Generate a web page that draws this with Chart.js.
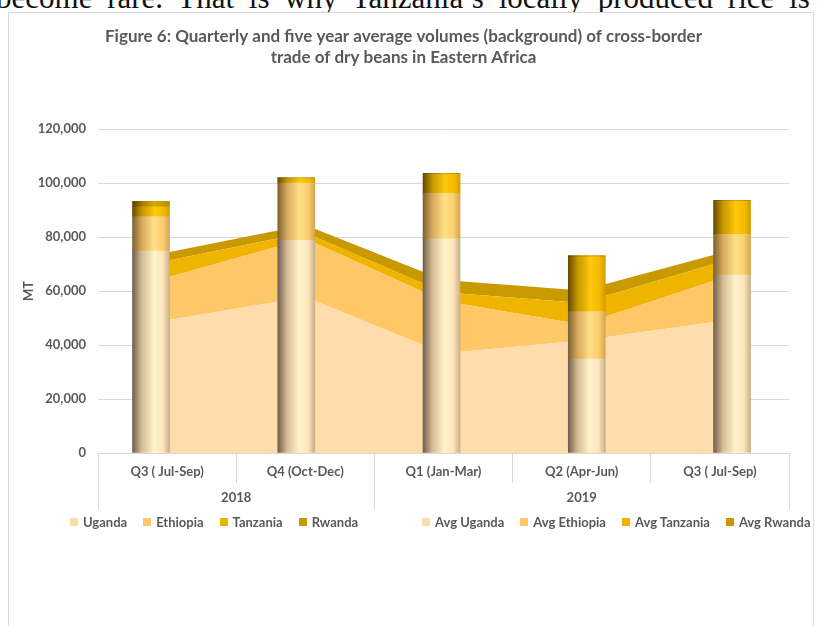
<!DOCTYPE html>
<html>
<head>
<meta charset="utf-8">
<script src="https://cdn.jsdelivr.net/npm/chart.js@4.4.1/dist/chart.umd.min.js"></script>
<style>
  body { margin: 0; width: 820px; height: 626px; overflow: hidden; position: relative; background: #fff; font-family: Lato, sans-serif; }
  #lead { position: absolute; left: -4px; top: -20px; font: 31px "Liberation Serif", serif; white-space: nowrap; word-spacing: 7px; color: #111; }
  #box { position: absolute; left: 8px; top: 12px; width: 806px; height: 640px; border: 1px solid #d9d9d9; box-sizing: border-box; background: #fff; }
  #beans-chart { position: absolute; left: 0; top: 0; }
  .legend { position: absolute; top: 501px; display: flex; gap: 16px; font: bold 13px Lato, sans-serif; color: #595959; }
  .legend span { display: inline-flex; align-items: center; white-space: nowrap; }
  .legend i { display: inline-block; width: 8px; height: 8px; margin-right: 5px; }
</style>
</head>
<body>
<div id="lead">become rare. That is why Tanzania’s locally produced rice is</div>
<div id="box">
  <canvas id="beans-chart" width="804" height="520" style="width:804px;height:520px"></canvas>
  <div class="legend" id="legend-q" style="left:61px"></div>
  <div class="legend" id="legend-avg" style="left:413px"></div>
</div>
<script>
///// data /////
const quarters = ['Q3 ( Jul-Sep)', 'Q4 (Oct-Dec)', 'Q1 (Jan-Mar)', 'Q2 (Apr-Jun)', 'Q3 ( Jul-Sep)'];
const years = ['2018', '2019'];
const yearSpans = [2, 3];

// quarterly volumes (MT), front cylinders
const uganda   = [74800, 78800, 79400, 34800, 65900];
const ethiopia = [12800, 21200, 16800, 17600, 15100];
const tanzania = [3600, 1700, 7000, 20300, 12200];
const rwanda   = [2100, 400, 400, 500, 400];

// five year averages (MT), background areas
const avgUganda   = [49200, 57800, 36900, 41700, 48800];
const avgEthiopia = [15800, 21600, 19400, 5900, 15800];
const avgTanzania = [6200, 2200, 3300, 8000, 6100];
const avgRwanda   = [3100, 2900, 4500, 4600, 3300];

const grey = '#595959';
const gridGrey = '#d9d9d9';

// year boundaries on the 0..5 helper axis
const yearEdges = [0];
yearSpans.forEach(s => yearEdges.push(yearEdges[yearEdges.length - 1] + s));

// shaded cylinder fill: dark left edge, light highlight right of centre
function cylinder(flat, stops) {
  return ctx => {
    const chart = ctx.chart;
    if (ctx.type !== 'data' || !chart.chartArea) return flat;
    const x = chart.scales.xb.getPixelForValue(ctx.parsed ? ctx.parsed.x : ctx.dataIndex);
    const g = chart.ctx.createLinearGradient(x - 18.5, 0, x + 18.5, 0);
    stops.forEach(s => g.addColorStop(s[0], s[1]));
    return g;
  };
}

const toXY = arr => arr.map((v, i) => ({ x: i, y: v }));

function barSet(label, values, flat, stops) {
  return {
    type: 'bar', label, data: toXY(values), xAxisID: 'xb', stack: 'q', grouped: false,
    backgroundColor: cylinder(flat, stops), legendColor: flat,
    barThickness: 37, borderWidth: 0
  };
}

function areaSet(label, values, color, fill) {
  return {
    type: 'line', label, data: values, xAxisID: 'x', stack: 'avg',
    backgroundColor: color, borderColor: color, legendColor: color,
    fill, borderWidth: 0, pointRadius: 0, tension: 0
  };
}

const data = {
  labels: quarters,
  datasets: [
    barSet('Uganda', uganda, '#fddcaa',
      [[0, '#6f5f4c'], [0.25, '#d6bb95'], [0.58, '#fff3cb'], [0.82, '#fde5ba'], [1, '#c9b08a']]),
    barSet('Ethiopia', ethiopia, '#fec866',
      [[0, '#7c6233'], [0.25, '#d6a95a'], [0.58, '#ffe088'], [0.82, '#fdcd6d'], [1, '#d2a656']]),
    barSet('Tanzania', tanzania, '#f0b400',
      [[0, '#664c00'], [0.25, '#c49600'], [0.6, '#ffc80c'], [0.85, '#f3b900'], [1, '#d29e00']]),
    barSet('Rwanda', rwanda, '#c99700',
      [[0, '#5a4400'], [0.3, '#ad8300'], [0.6, '#dca700'], [1, '#b48900']]),
    areaSet('Avg Uganda', avgUganda, '#fedcab', 'origin'),
    areaSet('Avg Ethiopia', avgEthiopia, '#fec868', '-1'),
    areaSet('Avg Tanzania', avgTanzania, '#efb400', '-1'),
    areaSet('Avg Rwanda', avgRwanda, '#c99900', '-1')
  ]
};

const font = { family: 'Lato', weight: 'bold', size: 13 };

const config = {
  type: 'bar',
  data,
  options: {
    responsive: false,
    animation: false,
    layout: { padding: { left: 9, right: 24, top: 0, bottom: 23 } },
    plugins: {
      legend: { display: false },
      tooltip: { enabled: false },
      title: {
        display: true,
        text: ['Figure 6: Quarterly and five year average volumes (background) of cross-border',
               'trade of dry beans in Eastern Africa'],
        color: grey,
        font: { family: 'Lato', weight: 'bold', size: 17, lineHeight: 1.24 },
        padding: { top: 13, bottom: 61 }
      }
    },
    scales: {
      y: {
        stacked: true,
        min: 0, max: 120000,
        ticks: { stepSize: 20000, color: grey, font, padding: 12,
                 callback: v => v.toLocaleString('en-US') },
        grid: { color: gridGrey, drawTicks: false },
        border: { display: false },
        title: { display: true, text: 'MT', color: grey, font, padding: { top: 3, bottom: 0 } },
        afterFit: s => { s.width = 80; }
      },
      // quarter row: separators run down through the labels
      x: {
        type: 'category',
        offset: true,
        grid: { offset: true, drawOnChartArea: false, color: gridGrey, tickLength: 30 },
        border: { color: gridGrey },
        ticks: { color: grey, font, padding: -19, maxRotation: 0, autoSkip: false },
        afterFit: s => { s.height = 30; }
      },
      // year row
      x2: {
        type: 'linear',
        position: 'bottom',
        offset: false,
        min: 0, max: yearEdges[yearEdges.length - 1],
        afterBuildTicks: axis => {
          const t = [];
          years.forEach((y, i) => {
            t.push({ value: yearEdges[i] });
            t.push({ value: (yearEdges[i] + yearEdges[i + 1]) / 2 });
          });
          t.push({ value: yearEdges[yearEdges.length - 1] });
          axis.ticks = t;
        },
        grid: {
          offset: false, drawOnChartArea: false, tickLength: 27,
          color: ctx => yearEdges.includes(ctx.tick && ctx.tick.value) ? gridGrey : 'rgba(0,0,0,0)'
        },
        border: { display: false },
        ticks: {
          color: grey, font, padding: -20, autoSkip: false, maxRotation: 0,
          callback: v => {
            const i = years.findIndex((y, k) => v === (yearEdges[k] + yearEdges[k + 1]) / 2);
            return i >= 0 ? years[i] : '';
          }
        },
        afterFit: s => { s.height = 27; }
      },
      // helper axis for the cylinders, spread slightly as in the 3D original
      xb: {
        type: 'linear', axis: 'x', display: false,
        min: -0.365, max: 4.392, offset: false
      }
    }
  }
};

let beansChart = new Chart(document.getElementById('beans-chart'), config);

///// legend /////
function fillLegend(id, sets) {
  const el = document.getElementById(id);
  sets.forEach(ds => {
    const item = document.createElement('span');
    const sw = document.createElement('i');
    sw.style.background = ds.legendColor;
    item.appendChild(sw);
    item.appendChild(document.createTextNode(ds.label));
    el.appendChild(item);
  });
}
fillLegend('legend-q', beansChart.data.datasets.filter(d => d.stack === 'q'));
fillLegend('legend-avg', beansChart.data.datasets.filter(d => d.stack === 'avg'));
</script>
</body>
</html>
